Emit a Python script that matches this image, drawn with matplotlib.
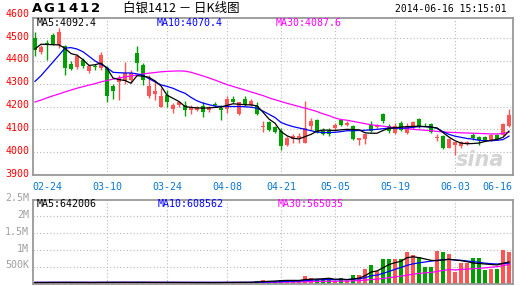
import matplotlib
matplotlib.use("Agg")
import matplotlib.pyplot as plt
import matplotlib.transforms as mtransforms
import numpy as np

# daily K-line, 2014-02-20 .. 2014-06-16 (80 trading days)
opens = [4500, 4441, 4480, 4512, 4470, 4466, 4388, 4372, 4405, 4355,
         4378, 4370, 4370, 4290, 4308, 4310, 4318, 4434, 4383, 4244,
         4256, 4200, 4251, 4190, 4207, 4208, 4183, 4186, 4203, 4186,
         4210, 4193, 4189, 4234, 4167, 4234, 4208, 4203, 4110, 4132,
         4110, 4094, 4032, 4057, 4061, 4042, 4116, 4142, 4094, 4094,
         4105, 4139, 4120, 4116, 4054, 4057, 4120, 4110, 4168, 4116,
         4083, 4127, 4086, 4105, 4145, 4121, 4124, 4064, 4072, 4020,
         4032, 4028, 4040, 4076, 4066, 4066, 4054, 4076, 4076, 4113]
highs = [4525, 4471, 4493, 4520, 4545, 4470, 4398, 4432, 4412, 4383,
         4385, 4438, 4378, 4300, 4340, 4394, 4362, 4463, 4390, 4339,
         4317, 4283, 4273, 4215, 4225, 4225, 4205, 4203, 4218, 4203,
         4219, 4208, 4244, 4244, 4222, 4247, 4232, 4222, 4135, 4137,
         4113, 4105, 4069, 4079, 4083, 4225, 4149, 4145, 4105, 4105,
         4127, 4146, 4135, 4120, 4064, 4083, 4135, 4123, 4171, 4124,
         4127, 4135, 4127, 4135, 4149, 4130, 4127, 4080, 4076, 4060,
         4045, 4050, 4050, 4083, 4069, 4072, 4080, 4079, 4130, 4187]
lows = [4420, 4430, 4405, 4470, 4455, 4337, 4358, 4365, 4370, 4348,
        4362, 4362, 4222, 4235, 4228, 4300, 4303, 4354, 4295, 4236,
        4229, 4198, 4200, 4171, 4200, 4159, 4168, 4180, 4156, 4176,
        4197, 4142, 4171, 4215, 4164, 4203, 4203, 4164, 4090, 4091,
        4083, 4010, 4025, 4042, 4040, 4040, 4098, 4083, 4076, 4072,
        4098, 4116, 4113, 4055, 4032, 4035, 4090, 4105, 4127, 4083,
        4080, 4091, 4080, 4101, 4105, 4113, 4083, 4050, 4013, 4017,
        3988, 4020, 4032, 4054, 4032, 4047, 4051, 4054, 4072, 4110]
closes = [4449, 4459, 4474, 4475, 4525, 4369, 4365, 4422, 4378, 4376,
          4374, 4427, 4245, 4270, 4325, 4347, 4347, 4390, 4317, 4288,
          4266, 4244, 4219, 4207, 4220, 4183, 4197, 4196, 4178, 4197,
          4206, 4186, 4234, 4218, 4218, 4208, 4225, 4167, 4116, 4098,
          4090, 4028, 4064, 4069, 4073, 4105, 4135, 4088, 4080, 4078,
          4120, 4120, 4127, 4057, 4061, 4080, 4094, 4120, 4135, 4091,
          4116, 4098, 4116, 4132, 4113, 4118, 4088, 4067, 4017, 4057,
          4043, 4045, 4045, 4061, 4054, 4051, 4076, 4057, 4124, 4162]

ma5 = [4452, 4473, 4472, 4471, 4470, 4455, 4432, 4425, 4405, 4380,
       4383, 4390, 4368, 4325, 4318, 4314, 4302, 4335, 4333, 4328,
       4312, 4290, 4250, 4236, 4222, 4200, 4196, 4194, 4193, 4194,
       4196, 4198, 4205, 4212, 4210, 4208, 4207, 4203, 4175, 4145,
       4127, 4090, 4072, 4061, 4058, 4068, 4078, 4092, 4097, 4096,
       4095, 4098, 4100, 4099, 4098, 4085, 4083, 4083, 4095, 4105,
       4107, 4110, 4112, 4113, 4114, 4112, 4110, 4106, 4086, 4066,
       4050, 4040, 4037, 4038, 4040, 4047, 4052, 4056, 4065, 4092.4]
ma10 = [4310, 4335, 4365, 4395, 4425, 4456, 4458, 4452, 4440, 4420,
        4400, 4385, 4370, 4350, 4348, 4347, 4347, 4343, 4337, 4322,
        4308, 4295, 4288, 4280, 4268, 4258, 4240, 4225, 4215, 4208,
        4202, 4200, 4200, 4200, 4200, 4199, 4197, 4193, 4180, 4166,
        4152, 4130, 4120, 4112, 4106, 4100, 4094, 4088, 4086, 4086,
        4087, 4090, 4094, 4094, 4095, 4096, 4098, 4100, 4103, 4105,
        4105, 4105, 4106, 4109, 4112, 4112, 4110, 4105, 4090, 4078,
        4070, 4065, 4060, 4057, 4052, 4050, 4050, 4052, 4055, 4070.4]
ma30 = [4220, 4228, 4238, 4247, 4255, 4264, 4272, 4280, 4287, 4294,
        4300, 4308, 4314, 4320, 4325, 4330, 4334, 4338, 4343, 4346,
        4349, 4352, 4354, 4355, 4356, 4355, 4350, 4342, 4334, 4325,
        4316, 4306, 4296, 4288, 4280, 4272, 4264, 4256, 4248, 4238,
        4230, 4222, 4214, 4207, 4200, 4193, 4186, 4178, 4168, 4160,
        4150, 4143, 4140, 4135, 4130, 4125, 4120, 4117, 4114, 4110,
        4108, 4105, 4103, 4100, 4098, 4096, 4094, 4091, 4089, 4087,
        4086, 4085, 4084, 4083, 4082, 4081, 4080, 4080, 4082, 4087.6]

volumes = [32e3, 28e3, 35e3, 30e3, 40e3, 38e3, 30e3, 27e3, 33e3, 29e3,
           31e3, 36e3, 42e3, 30e3, 34e3, 38e3, 30e3, 36e3, 33e3, 35e3,
           31e3, 30e3, 37e3, 29e3, 33e3, 32e3, 28e3, 30e3, 34e3, 27e3,
           30e3, 35e3, 40e3, 32e3, 36e3, 34e3, 38e3, 75e3, 104e3, 74e3,
           74e3, 104e3, 104e3, 104e3, 90e3, 223e3, 154e3, 134e3, 134e3, 134e3,
           80e3, 154e3, 60e3, 253e3, 253e3, 432e3, 551e3, 382e3, 720e3, 729e3,
           720e3, 729e3, 947e3, 848e3, 799e3, 500e3, 500e3, 977e3, 947e3, 878e3,
           352e3, 600e3, 600e3, 749e3, 749e3, 390e3, 440e3, 440e3, 1000e3, 940e3]
vol_ma5 = [30e3, 31e3, 32e3, 33e3, 33e3, 34e3, 33e3, 32e3, 33e3, 31e3,
           32e3, 33e3, 34e3, 35e3, 34e3, 35e3, 34e3, 35e3, 35e3, 34e3,
           33e3, 33e3, 33e3, 32e3, 32e3, 32e3, 31e3, 30e3, 31e3, 30e3,
           30e3, 31e3, 33e3, 33e3, 35e3, 35e3, 36e3, 45e3, 57e3, 65e3,
           73e3, 86e3, 92e3, 92e3, 91e3, 117e3, 127e3, 133e3, 141e3, 156e3,
           127e3, 131e3, 112e3, 136e3, 160e3, 230e3, 340e3, 374e3, 467e3, 563e3,
           620e3, 662e3, 769e3, 795e3, 770e3, 730e3, 690e3, 680e3, 700e3, 720e3,
           700e3, 680e3, 650e3, 610e3, 595e3, 580e3, 565e3, 552e3, 600e3, 642006]
vol_ma10 = [32e3, 32e3, 32e3, 33e3, 33e3, 33e3, 33e3, 33e3, 33e3, 33e3,
            33e3, 33e3, 33e3, 34e3, 34e3, 34e3, 34e3, 34e3, 34e3, 34e3,
            33e3, 33e3, 33e3, 33e3, 33e3, 32e3, 32e3, 32e3, 32e3, 31e3,
            31e3, 31e3, 32e3, 32e3, 32e3, 33e3, 33e3, 36e3, 40e3, 45e3,
            50e3, 57e3, 63e3, 68e3, 72e3, 88e3, 98e3, 108e3, 115e3, 120e3,
            113e3, 118e3, 120e3, 128e3, 140e3, 170e3, 230e3, 250e3, 300e3, 360e3,
            420e3, 480e3, 540e3, 585e3, 615e3, 640e3, 665e3, 690e3, 705e3, 720e3,
            700e3, 690e3, 670e3, 650e3, 630e3, 605e3, 590e3, 580e3, 595e3, 608562]
vol_ma30 = [31e3, 31e3, 31e3, 31e3, 31e3, 31e3, 31e3, 31e3, 31e3, 31e3,
            31e3, 31e3, 32e3, 32e3, 32e3, 32e3, 32e3, 32e3, 32e3, 32e3,
            32e3, 32e3, 32e3, 32e3, 32e3, 32e3, 32e3, 32e3, 32e3, 32e3,
            32e3, 32e3, 32e3, 32e3, 32e3, 32e3, 32e3, 33e3, 34e3, 36e3,
            38e3, 40e3, 43e3, 45e3, 47e3, 53e3, 57e3, 60e3, 64e3, 67e3,
            68e3, 72e3, 73e3, 80e3, 87e3, 100e3, 117e3, 128e3, 150e3, 173e3,
            196e3, 219e3, 249e3, 276e3, 300e3, 315e3, 330e3, 360e3, 388e3, 415e3,
            405e3, 418e3, 428e3, 440e3, 452e3, 465e3, 485e3, 500e3, 535e3, 565035]

date_labels = ["02-24", "03-10", "03-24", "04-08", "04-21", "05-05", "05-19", "06-03", "06-16"]
date_index = [2, 12, 22, 32, 41, 50, 60, 70, 79]
price_ticks = [3900, 4000, 4100, 4200, 4300, 4400, 4500, 4600]
vol_ticks = [500e3, 1e6, 1.5e6, 2e6, 2.5e6]
vol_tick_labels = ["500K", "1M", "1.5M", "2M", "2.5M"]

RED = "#ff5555"
GREEN = "#009f00"
GRID = "#b8b8b8"
BORDER = "#999999"
MONO = "DejaVu Sans Mono"

W, H = 526, 286
fig = plt.figure(figsize=(W / 100, H / 100), dpi=100)
fig.patch.set_facecolor("white")


def px_axes(left, top, right, bottom):
    return fig.add_axes([left / W, 1 - bottom / H, (right - left) / W, (bottom - top) / H])


def px_text(x, y, s, **kw):
    fig.text(x / W, 1 - y / H, s, **kw)


ax = px_axes(33, 17.5, 512.5, 175)
axv = px_axes(33, 200, 512.5, 283.5)

x = np.arange(len(closes))
o, h, l, c = map(np.array, (opens, highs, lows, closes))
up = c >= o
colors = np.where(up, RED, GREEN)

for a in (ax, axv):
    a.set_xlim(-0.33, 79.58)
    a.set_xticks([])
    a.set_yticks([])
    for s in a.spines.values():
        s.set_color(BORDER)
        s.set_linewidth(1.3)
    for idx in date_index[1:-1]:
        a.axvline(idx, color=GRID, lw=0.8, ls=(0, (1, 2)), zorder=0)

# price panel
ax.set_ylim(3900, 4590)
for v in price_ticks[1:-1]:
    ax.axhline(v, color=GRID, lw=0.8, ls=(0, (1, 2)), zorder=0)
ax.vlines(x, l, h, colors=colors, lw=1, zorder=2)
ax.bar(x, np.maximum(np.abs(c - o), 3), 0.72, bottom=np.minimum(o, c),
       color=colors, lw=0, zorder=3)
ax.plot(x, ma30, color="#ff00ff", lw=0.9, zorder=4)
ax.plot(x, ma10, color="#0000ff", lw=0.9, zorder=4)
ax.plot(x, ma5, color="black", lw=0.9, zorder=5)

ytr = mtransforms.blended_transform_factory(ax.transAxes, ax.transData)
for v in price_ticks:
    ax.text(-0.008, v + 6, str(v), transform=ytr, ha="right", va="center",
            color="#ff0000", fontsize=7.2, family=MONO)

xtr = mtransforms.blended_transform_factory(ax.transData, ax.transAxes)
for k, (idx, lab) in enumerate(zip(date_index, date_labels)):
    if k == 0:
        xx, ha = -0.5, "left"
    elif k == len(date_labels) - 1:
        xx, ha = 79.5, "right"
    else:
        xx, ha = idx, "center"
    ax.text(xx, -0.076, lab, transform=xtr, ha=ha, va="center",
            color="#0a78d0", fontsize=7.2, family=MONO)

# volume panel
axv.set_ylim(0, 2.485e6)
for v in vol_ticks[:-1]:
    axv.axhline(v, color=GRID, lw=0.8, ls=(0, (1, 2)), zorder=0)
axv.bar(x, volumes, 0.8, color=colors, lw=0, zorder=2)
axv.plot(x, vol_ma30, color="#ff00ff", lw=0.9, zorder=3)
axv.plot(x, vol_ma10, color="#0000ff", lw=0.9, zorder=3)
axv.plot(x, vol_ma5, color="black", lw=0.9, zorder=4)

vtr = mtransforms.blended_transform_factory(axv.transAxes, axv.transData)
for v, lab in zip(vol_ticks, vol_tick_labels):
    axv.text(-0.008, v + 40e3, lab, transform=vtr, ha="right", va="center",
             color="#a0a0a0", fontsize=7.2, family=MONO)

# header texts
for k, ch in enumerate("AG1412"):
    px_text(37.5 + k * 11.7, 8, ch, ha="center", va="center",
            fontsize=9.5, fontweight="bold", family="DejaVu Sans")
px_text(181, 8, "白银1412 － 日K线图", ha="center", va="center", fontsize=9,
        family=["Noto Sans CJK SC", "DejaVu Sans"])
px_text(507, 8.5, "2014-06-16 15:15:01", ha="right", va="center",
        fontsize=7, family=MONO)

px_text(37, 22.5, "MA5:%.1f" % ma5[-1], va="center", fontsize=7.2, family=MONO, color="black")
px_text(157, 22.5, "MA10:%.1f" % ma10[-1], va="center", fontsize=7.2, family=MONO, color="#0000ff")
px_text(276, 22.5, "MA30:%.1f" % ma30[-1], va="center", fontsize=7.2, family=MONO, color="#ff00ff")

px_text(37, 204, "MA5:%d" % vol_ma5[-1], va="center", fontsize=7.2, family=MONO, color="black")
px_text(158, 204, "MA10:%d" % vol_ma10[-1], va="center", fontsize=7.2, family=MONO, color="#0000ff")
px_text(278, 204, "MA30:%d" % vol_ma30[-1], va="center", fontsize=7.2, family=MONO, color="#ff00ff")

# sina watermark
px_text(480, 160, "sina", ha="center", va="center", fontsize=15, fontweight="bold",
        style="italic", color="#d4d4d4", zorder=0)

fig.savefig("out.png", dpi=100, facecolor="white")
